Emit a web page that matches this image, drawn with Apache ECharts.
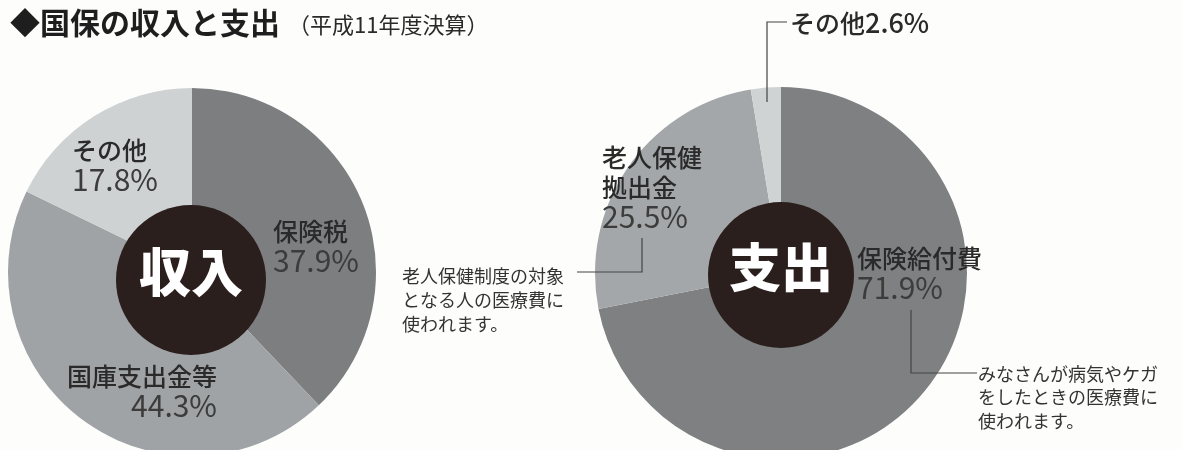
<!DOCTYPE html>
<html><head><meta charset="utf-8">
<script src="https://cdn.jsdelivr.net/npm/echarts@6/dist/echarts.min.js"></script>
<style>html,body{margin:0;padding:0;background:#fdfdfc;}#c{width:1182px;height:450px;}</style>
</head><body><div id="c"></div>
<script>
// ---- data ----
const incomeNames = ['保険税', '国庫支出金等', 'その他'];
const incomeValues = [37.9, 44.3, 17.8];
const expenseNames = ['保険給付費', '老人保健\n拠出金', 'その他'];
const expenseValues = [71.9, 25.5, 2.6];
const centerTexts = ['収入', '支出'];
const titleMain = '◆国保の収入と支出';
const titleSub = '（平成11年度決算）';
const noteElderly = '老人保健制度の対象\nとなる人の医療費に\n使われます。';
const noteBenefit = 'みなさんが病気やケガ\nをしたときの医療費に\n使われます。';

// ---- styles / layout ----
const FONT = '"Noto Sans CJK JP", "Noto Sans", sans-serif';
const incomeColors = ['#7c7e7f', '#a0a3a5', '#cfd2d3'];
const expenseColors = ['#7e8081', '#a4a7a9', '#d0d3d4'];
const incomeLabelPos = [[273, 216, 'left'], [217, 361, 'right'], [72, 135, 'left']];
const expenseLabelPos = [[857, 243, 'left'], [602, 142, 'left'], [790, 8, 'left']];

function mkData(names, values, colors) {
  return names.map((n, i) => ({ name: n, value: values[i], itemStyle: { color: colors[i] } }));
}
const rich = {
  n: { fontFamily: FONT, fontSize: 25, fontWeight: 500, color: '#2a2a2a', lineHeight: 30 },
  v: { fontFamily: FONT, fontSize: 30, fontWeight: 400, color: '#3c3c3c', lineHeight: 30 },
  vb: { fontFamily: FONT, fontSize: 27, fontWeight: 500, color: '#2a2a2a', lineHeight: 30 }
};
function pieSeries(center, radius, data, pos, inlineIdx) {
  return {
    type: 'pie', center: center, radius: [0, radius], startAngle: 90, clockwise: true,
    silent: true, animation: false, data: data,
    itemStyle: { borderWidth: 0 },
    label: {
      show: true, position: 'inside', rich: rich,
      formatter: p => {
        const nm = p.name.split('\n').map(s => '{n|' + s + '}').join('\n');
        return p.dataIndex === inlineIdx ? nm + '{vb|' + p.value + '%}' : nm + '\n{v|' + p.value + '%}';
      }
    },
    labelLine: { show: false },
    labelLayout: p => ({ x: pos[p.dataIndex][0], y: pos[p.dataIndex][1], align: pos[p.dataIndex][2], verticalAlign: 'top' })
  };
}
function hubSeries(center, radius, text) {
  return {
    type: 'pie', center: center, radius: [0, radius], silent: true, animation: false,
    data: [{ name: text, value: 1, itemStyle: { color: '#2b1f1e' } }],
    label: { show: true, position: 'center', formatter: '{b}', offset: [0, -8],
      fontFamily: FONT, fontSize: 52, fontWeight: 900, color: '#ffffff' },
    labelLine: { show: false }
  };
}

const lineStyle = { stroke: '#444', lineWidth: 1.2, fill: null };
const chart = echarts.init(document.getElementById('c'));
chart.setOption({
  backgroundColor: '#fdfdfc',
  title: {
    left: 5, top: 3,
    text: '{a|' + titleMain + '}{b|' + titleSub + '}',
    textStyle: { rich: {
      a: { fontFamily: FONT, fontSize: 30, fontWeight: 700, color: '#1e1e1e' },
      b: { fontFamily: FONT, fontSize: 22, fontWeight: 400, color: '#2a2a2a', padding: [4, 0, 0, 8] }
    } }
  },
  series: [
    pieSeries([192, 272], 184, mkData(incomeNames, incomeValues, incomeColors), incomeLabelPos, -1),
    hubSeries([191, 280], 75, centerTexts[0]),
    pieSeries([781, 273], 186, mkData(expenseNames, expenseValues, expenseColors), expenseLabelPos, 2),
    hubSeries([781, 275], 73, centerTexts[1])
  ],
  graphic: [
    { type: 'polyline', z: 100, shape: { points: [[787, 22], [767, 22], [767, 102]] }, style: lineStyle, silent: true },
    { type: 'polyline', z: 100, shape: { points: [[642, 238], [642, 272], [577, 272]] }, style: lineStyle, silent: true },
    { type: 'polyline', z: 100, shape: { points: [[911, 310], [911, 373], [977, 373]] }, style: lineStyle, silent: true },
    { type: 'text', z: 100, left: 402, top: 264, style: { text: noteElderly, font: '400 18px ' + FONT, fill: '#333', lineHeight: 24 } },
    { type: 'text', z: 100, left: 978, top: 362, style: { text: noteBenefit, font: '400 18px ' + FONT, fill: '#333', lineHeight: 23.5 } }
  ]
});
</script></body></html>
